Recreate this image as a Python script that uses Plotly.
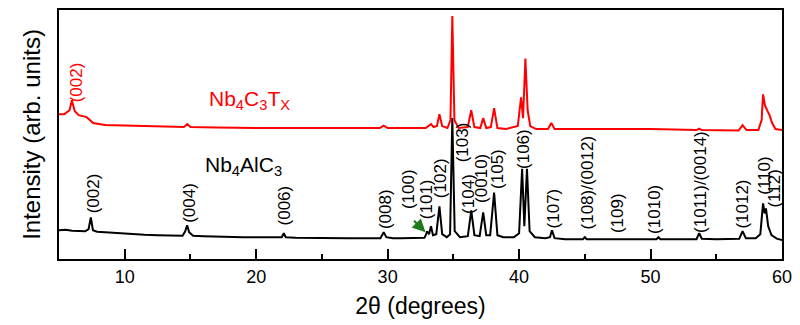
import plotly.graph_objects as go

# ---- data (2theta in degrees, intensity in arbitrary units) ----
black_x = [5.0, 5.5, 6.0, 6.5, 7.0, 7.25, 7.42, 7.58, 7.9, 8.5, 9.5, 10.5, 11.5, 12.5, 13.5, 14.4, 14.6, 14.75, 14.9, 15.2,
           16.0, 17.0, 18.0, 19.0, 20.0, 21.0, 21.95, 22.1, 22.25, 23.0, 25.0, 27.0, 29.45, 29.7, 29.9, 30.4, 31.0, 32.0,
           32.8, 32.9, 33.0, 33.15, 33.3, 33.45, 33.7, 33.94, 34.15, 34.5, 34.75, 34.92, 35.1, 35.5, 36.1, 36.36, 36.6,
           37.0, 37.27, 37.5, 37.8, 38.1, 38.35, 38.8, 39.6, 40.0, 40.23, 40.4, 40.6, 40.8, 41.2, 42.0, 42.35, 42.5, 42.7,
           43.5, 44.85, 45.0, 45.15, 47.0, 50.45, 50.6, 50.75, 52.0, 53.5, 53.7, 53.9, 55.0, 56.75, 57.0, 57.25, 58.0,
           58.35, 58.56, 58.68, 58.78, 58.95, 59.2, 59.6, 60.0]
black_y = [29, 29.5, 28.5, 28, 28, 30, 42, 29, 27.5, 27, 26, 25, 24.5, 24, 23.5, 23.5, 28, 34, 27, 23.5,
           23, 22.5, 22.5, 22, 22, 22, 22, 26, 22, 21.5, 21, 21, 21, 27, 22, 21, 21, 21,
           21.5, 24, 28, 25, 33, 24, 25, 53, 25, 22, 25, 142, 28, 22, 23, 49, 24,
           23, 47, 24, 24, 67, 24, 22, 22, 26, 91, 33, 91, 28, 22, 21, 22, 29, 21,
           20, 20, 22, 20, 20, 20, 22, 20, 20, 20, 26, 20.5, 20, 20.5, 28, 21, 21,
           25, 56, 46, 51, 33, 24, 20.5, 19]

red_x = [5.0, 5.4, 5.8, 5.98, 6.2, 6.5, 6.8, 7.1, 7.6, 8.5, 10.0, 12.6, 14.5, 14.77, 15.0, 17.0, 20.0, 25.0, 29.4, 29.7,
         30.0, 32.0, 32.9, 33.1, 33.3, 33.5, 33.75, 33.94, 34.15, 34.55, 34.78, 34.92, 35.08, 35.4, 36.1, 36.36, 36.6,
         37.05, 37.27, 37.5, 37.85, 38.1, 38.35, 39.0, 39.9, 40.15, 40.3, 40.48, 40.65, 40.85, 41.3, 42.2, 42.45, 42.7,
         45.0, 50.0, 53.5, 53.7, 53.9, 56.7, 57.0, 57.3, 58.2, 58.45, 58.56, 58.7, 58.9, 59.05, 59.25, 59.5, 60.0]
red_y = [146, 146, 150, 160, 149, 145, 144, 143, 137, 135, 134.5, 134, 133, 136, 133, 132.5, 132, 132, 132, 134.5,
         132, 132, 132, 134, 136, 133, 134, 146, 134, 132, 140, 245, 140, 132, 133, 150, 133,
         132, 142, 132, 133, 152, 132, 131, 134, 163, 142, 202, 150, 134, 131, 131, 137, 131,
         131, 131, 130, 131.5, 130, 129.5, 135, 130, 130, 140, 166, 155, 149, 145, 137, 131, 130]

# peak labels: (text, 2theta, height)
peak_labels = ["(002)", "(004)", "(006)", "(008)", "(100)", "(101)", "(102)", "(103)", "(104)", "(0010)", "(105)",
               "(106)", "(107)", "(108)/(0012)", "(109)", "(1010)", "(1011)/(0014)", "(1012)", "(110)", "(112)"]
label_x = [7.65, 14.92, 22.12, 29.85, 31.59, 32.97, 34.02, 35.76, 36.14, 37.12, 38.41,
           40.38, 42.58, 45.23, 47.5, 50.3, 53.79, 56.97, 58.71, 59.47]
label_y = [66, 57, 54, 50, 70, 60, 82, 118, 66, 81, 91,
           111, 51, 77, 46, 50, 78, 55, 84, 71]

red_label = "(002)"
red_label_x = 6.36
red_label_y = 178

x_ticks = [10, 20, 30, 40, 50, 60]

fig = go.Figure()
fig.add_trace(go.Scatter(x=black_x, y=black_y, mode="lines",
                         line=dict(color="black", width=2), showlegend=False))
fig.add_trace(go.Scatter(x=red_x, y=red_y, mode="lines",
                         line=dict(color="#ff0000", width=2), showlegend=False))

font_family = "Liberation Sans, Arial, sans-serif"
annotations = []
for t, xv, yv in zip(peak_labels, label_x, label_y):
    annotations.append(dict(x=xv, y=yv, xref="x", yref="y", text=t, showarrow=False, textangle=-90,
                            font=dict(family=font_family, size=17, color="black"),
                            xanchor="center", yanchor="middle"))
annotations.append(dict(x=red_label_x, y=red_label_y, xref="x", yref="y", text=red_label, showarrow=False,
                        textangle=-90, font=dict(family=font_family, size=17, color="#ff0000"),
                        xanchor="center", yanchor="middle"))
annotations.append(dict(x=16.29, y=160, xref="x", yref="y", text="Nb<sub>4</sub>C<sub>3</sub>T<sub>X</sub>",
                        showarrow=False, font=dict(family=font_family, size=21, color="#ff0000"),
                        xanchor="left", yanchor="middle"))
annotations.append(dict(x=15.98, y=94, xref="x", yref="y", text="Nb<sub>4</sub>AlC<sub>3</sub>",
                        showarrow=False, font=dict(family=font_family, size=21, color="black"),
                        xanchor="left", yanchor="middle"))
annotations.append(dict(x=32.88, y=27, xref="x", yref="y", text="", showarrow=True, ax=-13, ay=-13,
                        arrowcolor="#1e7b1e", arrowwidth=2, arrowhead=2, arrowsize=1.3))

fig.update_layout(
    width=800, height=325,
    margin=dict(l=59, r=15, t=8, b=66),
    paper_bgcolor="white", plot_bgcolor="white",
    annotations=annotations,
    xaxis=dict(range=[5, 60], tickvals=x_ticks, ticks="inside", ticklen=10, tickwidth=1.5, tickcolor="black",
               minor=dict(dtick=5, ticks="inside", ticklen=5, tickwidth=1.5, tickcolor="black"),
               showline=True, linecolor="black", linewidth=2, mirror=True, showgrid=False, zeroline=False,
               tickfont=dict(family=font_family, size=18, color="black"),
               title=dict(text="2θ (degrees)", font=dict(family=font_family, size=23, color="black"), standoff=12)),
    yaxis=dict(range=[0, 251], showticklabels=False, ticks="", showline=True, linecolor="black", linewidth=2,
               mirror=True, showgrid=False, zeroline=False,
               title=dict(text="Intensity (arb. units)", font=dict(family=font_family, size=24, color="black"),
                          standoff=10)),
)

fig.write_html("out.html")
